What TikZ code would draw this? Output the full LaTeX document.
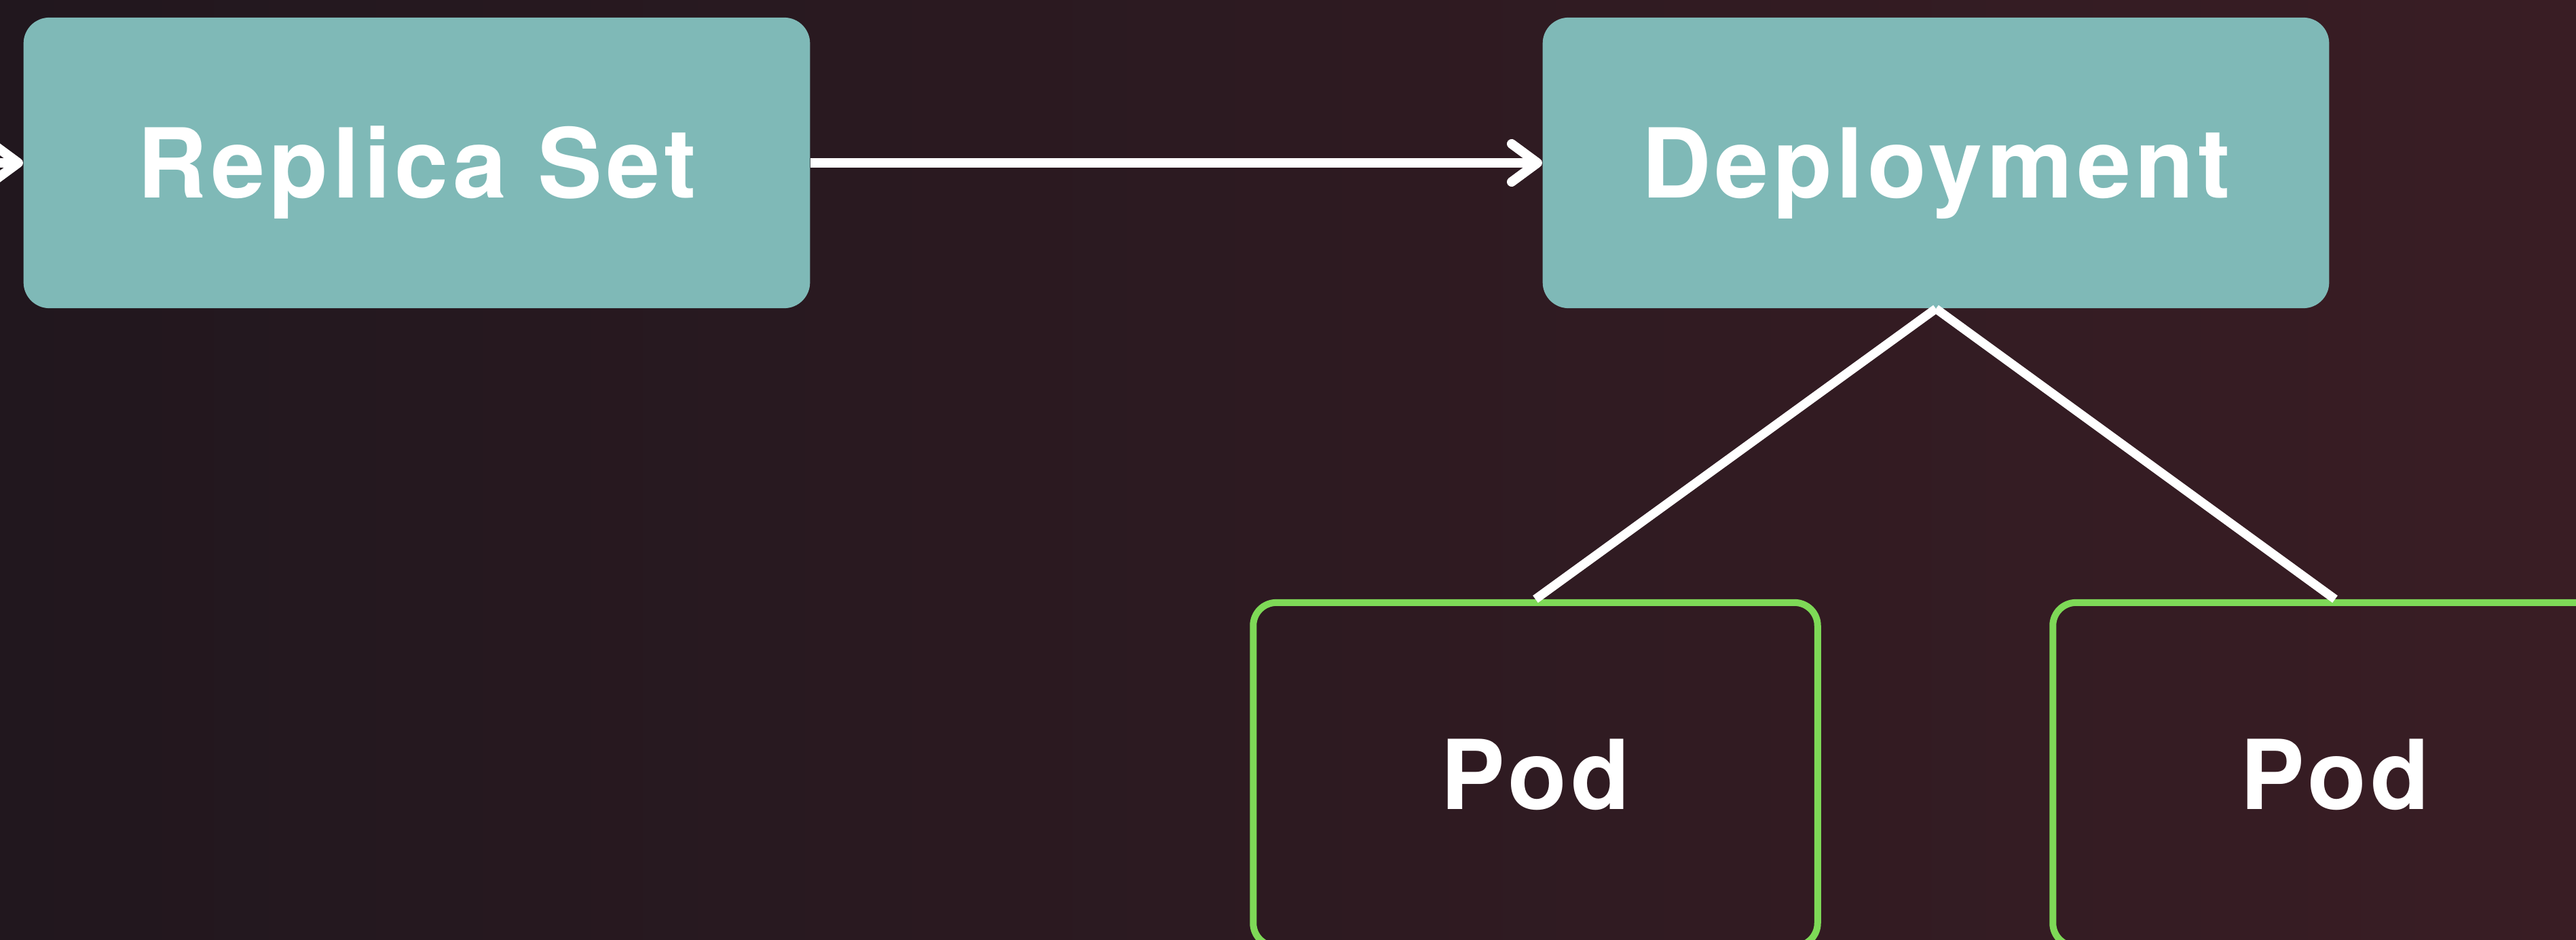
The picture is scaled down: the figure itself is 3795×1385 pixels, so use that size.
\documentclass[tikz,border=0pt]{standalone}
\usepackage{fontspec}
\setmainfont{TeX Gyre Heros}[LetterSpace=4.5]
\usetikzlibrary{arrows.meta}
\definecolor{bgL}{RGB}{33,23,30}
\definecolor{bgR}{RGB}{57,29,36}
\definecolor{teal}{RGB}{127,185,183}
\definecolor{podgreen}{RGB}{126,217,87}
\tikzset{
  labelfont/.style={font=\fontsize{40.4pt}{48pt}\selectfont\bfseries, text=white, text height=1.02cm, text depth=0pt},
  tealbox/.style={labelfont, fill=teal, rounded corners=0.38cm, minimum width=11.58cm, minimum height=4.28cm, inner sep=0pt},
  podbox/.style={labelfont, draw=podgreen, line width=0.1cm, rounded corners=0.34cm, minimum width=8.31cm, minimum height=5.06cm, inner sep=0pt},
  arr/.style={draw=white, line width=0.14cm, -{Straight Barb[length=0.38cm, width=0.56cm, round]}},
  link/.style={draw=white, line width=0.13cm}
}
\begin{document}
\begin{tikzpicture}[x=0.01cm, y=-0.01cm]
\useasboundingbox (0,0) rectangle (3795,1385);
\clip (0,0) rectangle (3795,1385);
\shade[left color=bgL, right color=bgR] (0,0) rectangle (3795,1385);
\node[tealbox] (rs) at (614,240) {Replica Set};
\node[tealbox] (dep) at (2852,240) {Deployment};
\node[podbox] (pod1) at (2262,1141) {Pod};
\node[podbox] (pod2) at (3440,1141) {Pod};
\coordinate (in) at (-30,240);
\draw[arr] (in) -- (rs.west);
\draw[arr] (rs.east) -- (dep.west);
\draw[link] (dep.south) -- (pod1.north);
\draw[link] (dep.south) -- (pod2.north);
\end{tikzpicture}
\end{document}
